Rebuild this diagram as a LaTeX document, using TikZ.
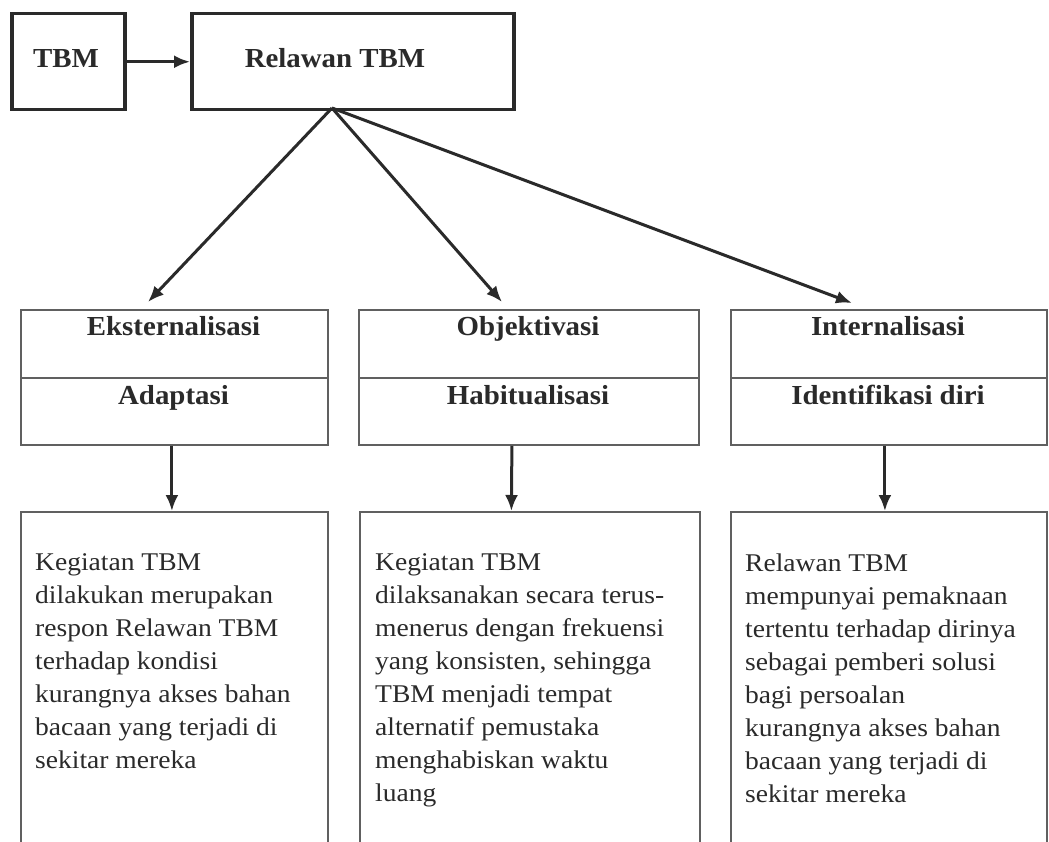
\documentclass[tikz,border=0pt]{standalone}
\usepackage{fontspec}
\setmainfont{Liberation Serif}
\newfontfamily\bodyf[FakeStretch=1.08]{Liberation Serif}
\newfontfamily\headf[FakeStretch=1.05]{Liberation Serif}
\usetikzlibrary{arrows.meta}
\definecolor{ink}{HTML}{2A2A2A}
\definecolor{edge}{HTML}{606060}
\begin{document}
\begin{tikzpicture}[x=1pt,y=-1pt,
  thickbox/.style={draw=ink,line width=3.5pt,inner sep=0pt,anchor=north west},
  thinbox/.style={draw=edge,line width=1.8pt,inner sep=0pt,anchor=north west},
  headtxt/.style={text=ink,font=\headf\bfseries\fontsize{27.5}{30}\selectfont,inner sep=0pt,anchor=base},
  bodytxt/.style={text=ink,font=\bodyf\fontsize{25.5}{33}\selectfont,inner sep=0pt,anchor=north west,align=left},
  conn/.style={draw=ink,line width=3pt,-{Latex[length=16pt,width=13pt]}},
  divider/.style={draw=edge,line width=1.8pt},
]
\clip (0,0) rectangle (1049,842);
\fill[white] (0,0) rectangle (1049,842);

% top boxes
\node[thickbox,minimum width=113pt,minimum height=96pt] (tbm) at (10,12) {};
\node[thickbox,minimum width=322pt,minimum height=96pt] (rel) at (190,12) {};
\node[headtxt] (tbmt) at (66,68) {TBM};
\node[headtxt] (relt) at (335,68) {Relawan TBM};

% middle boxes
\node[thinbox,minimum width=307pt,minimum height=135pt] (ext) at (20,309) {};
\node[thinbox,minimum width=340pt,minimum height=135pt] (obj) at (358,309) {};
\node[thinbox,minimum width=316pt,minimum height=135pt] (int) at (730,309) {};
\draw[divider] (20,378) -- (327,378);
\draw[divider] (358,378) -- (698,378);
\draw[divider] (730,378) -- (1046,378);

\node[headtxt] (extt) at (173.5,335) {Eksternalisasi};
\node[headtxt] (exts) at (173.5,404) {Adaptasi};
\node[headtxt] (objt) at (528,335) {Objektivasi};
\node[headtxt] (objs) at (528,404) {Habitualisasi};
\node[headtxt] (intt) at (888,335) {Internalisasi};
\node[headtxt] (ints) at (888,404) {Identifikasi diri};

% bottom boxes (cut off at bottom of page)
\node[thinbox,minimum width=307pt,minimum height=345pt] (extd) at (20,511) {};
\node[thinbox,minimum width=340pt,minimum height=345pt] (objd) at (359,511) {};
\node[thinbox,minimum width=316pt,minimum height=345pt] (intd) at (730,511) {};

\node[bodytxt] (extb) at (35,553.5) {Kegiatan TBM\\dilakukan merupakan\\respon Relawan TBM\\terhadap kondisi\\kurangnya akses bahan\\bacaan yang terjadi di\\sekitar mereka};
\node[bodytxt] (objb) at (375,553.5) {Kegiatan TBM\\dilaksanakan secara terus-\\menerus dengan frekuensi\\yang konsisten, sehingga\\TBM menjadi tempat\\alternatif pemustaka\\menghabiskan waktu\\luang};
\node[bodytxt] (intb) at (745,553.5) {Relawan TBM\\mempunyai pemaknaan\\tertentu terhadap dirinya\\sebagai pemberi solusi\\bagi persoalan\\kurangnya akses bahan\\bacaan yang terjadi di\\sekitar mereka};

% connectors
\draw[conn] (tbm.east) -- (rel.west);
\coordinate (src) at (332,108);
\coordinate (extin) at (148,302);
\coordinate (objin) at (502,302);
\coordinate (intin) at (852,303);
\draw[conn] (src) -- (extin);
\draw[conn] (src) -- (objin);
\draw[conn] (src) -- (intin);
\draw[conn] ([xshift=-2.5pt]ext.south) -- ([xshift=-2.5pt]extd.north);
\draw[conn] ([xshift=-17pt]obj.south) -- ([xshift=-18.5pt]objd.north);
\draw[conn] ([xshift=-4pt]int.south) -- ([xshift=-4pt]intd.north);
\end{tikzpicture}
\end{document}
